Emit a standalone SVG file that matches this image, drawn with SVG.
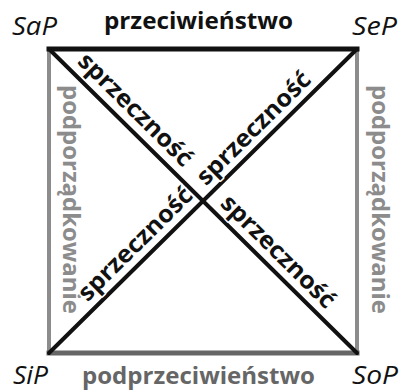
<svg xmlns="http://www.w3.org/2000/svg" width="399" height="391" viewBox="0 0 399 391">
  <style>
    .corner { font-family: "Open Sans", "Noto Sans", sans-serif; font-style: italic; font-size: 25px; fill: #111; }
    .rel { font-family: "Open Sans", "Noto Sans", sans-serif; font-weight: bold; font-size: 24px; }
    .diag { fill: #111; stroke: #fff; stroke-width: 3; stroke-linejoin: round; paint-order: stroke; }
    .edge { fill: none; stroke-linecap: square; }
  </style>
  <rect width="399" height="391" fill="#fff"/>

  <!-- connectors: sides and diagonals of the square -->
  <g id="connectors">
    <line class="edge" x1="49" y1="49" x2="49" y2="353" stroke="#8c8c8c" stroke-width="4"/>
    <line class="edge" x1="357" y1="49" x2="357" y2="353" stroke="#8c8c8c" stroke-width="4"/>
    <line class="edge" x1="49" y1="353" x2="357" y2="353" stroke="#666" stroke-width="5"/>
    <line class="edge" x1="49" y1="49" x2="357" y2="49" stroke="#111" stroke-width="5"/>
    <line x1="49" y1="49" x2="357" y2="353" stroke="#111" stroke-width="4" stroke-linecap="round"/>
    <line x1="357" y1="49" x2="49" y2="353" stroke="#111" stroke-width="4" stroke-linecap="round"/>
  </g>

  <!-- corner propositions -->
  <g id="SaP"><text class="corner" x="12" y="35" textLength="45" lengthAdjust="spacingAndGlyphs">SaP</text></g>
  <g id="SeP"><text class="corner" x="352" y="35" textLength="45" lengthAdjust="spacingAndGlyphs">SeP</text></g>
  <g id="SiP"><text class="corner" x="13" y="384" textLength="35" lengthAdjust="spacingAndGlyphs">SiP</text></g>
  <g id="SoP"><text class="corner" x="352" y="384" textLength="46" lengthAdjust="spacingAndGlyphs">SoP</text></g>

  <!-- relation labels on the sides -->
  <g id="label-top"><text class="rel" x="104" y="29" fill="#111" textLength="189" lengthAdjust="spacingAndGlyphs">przeciwieństwo</text></g>
  <g id="label-bottom"><text class="rel" x="82" y="384" fill="#666" textLength="233" lengthAdjust="spacingAndGlyphs">podprzeciwieństwo</text></g>
  <g id="label-left"><text class="rel" transform="translate(63 85) rotate(90)" fill="#8c8c8c" textLength="229" lengthAdjust="spacingAndGlyphs">podporządkowanie</text></g>
  <g id="label-right"><text class="rel" transform="translate(372 85) rotate(90)" fill="#8c8c8c" textLength="229" lengthAdjust="spacingAndGlyphs">podporządkowanie</text></g>

  <!-- relation labels on the diagonals -->
  <g id="label-diag-1"><text class="rel diag" transform="translate(76.5 62.5) rotate(44.7)" textLength="150" lengthAdjust="spacingAndGlyphs">sprzeczność</text></g>
  <g id="label-diag-2"><text class="rel diag" transform="translate(205.9 186.6) rotate(-44.7)" textLength="150" lengthAdjust="spacingAndGlyphs">sprzeczność</text></g>
  <g id="label-diag-3"><text class="rel diag" transform="translate(87.5 302.4) rotate(-44.7)" textLength="150" lengthAdjust="spacingAndGlyphs">sprzeczność</text></g>
  <g id="label-diag-4"><text class="rel diag" transform="translate(219.3 204.4) rotate(44.7)" textLength="150" lengthAdjust="spacingAndGlyphs">sprzeczność</text></g>
</svg>
